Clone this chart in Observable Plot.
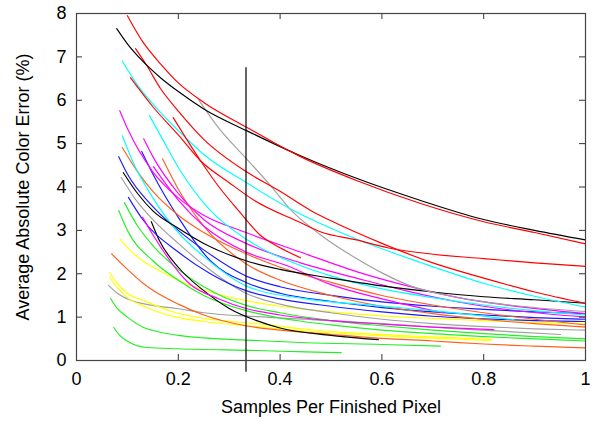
<!DOCTYPE html>
<html>
<head>
<meta charset="utf-8">
<script src="https://cdn.jsdelivr.net/npm/d3@7"></script>
<script src="https://cdn.jsdelivr.net/npm/@observablehq/plot@0.6"></script>
<style>
  html, body { margin: 0; padding: 0; background: #fff; }
  #chart { width: 595px; height: 421px; }
</style>
</head>
<body>
<div id="chart"></div>
<script>
// ---- tick labels ----
const xTicks = [0, 0.2, 0.4, 0.6, 0.8, 1];
const yTicks = [0, 1, 2, 3, 4, 5, 6, 7, 8];

// ---- vertical marker ----
const markerX = [0.333];
const markerTop = 6.75;
const markerBottom = -0.27;

// ---- series values ([x, y] pairs) ----
const red1 = [[0.1,7.95],[0.13,7.35],[0.165,6.84],[0.2,6.4],[0.25,5.95],[0.334,5.38],[0.44,4.7],[0.55,4.15],[0.676,3.62],[0.8,3.2],[0.9,2.95],[1.0,2.69]];
const black1 = [[0.079,7.65],[0.1,7.3],[0.13,6.9],[0.165,6.52],[0.2,6.2],[0.25,5.8],[0.334,5.3],[0.44,4.72],[0.55,4.2],[0.676,3.69],[0.8,3.25],[0.9,3.0],[1.0,2.78]];
const red2 = [[0.116,7.19],[0.138,6.8],[0.165,6.27],[0.2,5.75],[0.25,5.1],[0.334,4.35],[0.4,3.9],[0.46,3.46],[0.5,3.22],[0.6,2.7],[0.7,2.25],[0.8,1.9],[0.9,1.58],[1.0,1.32]];
const red3 = [[0.106,6.52],[0.15,5.85],[0.2,5.2],[0.244,4.6],[0.3,4.1],[0.348,3.7],[0.44,3.18],[0.479,2.97],[0.55,2.78],[0.611,2.6],[0.7,2.45],[0.8,2.35],[0.9,2.25],[1.0,2.17]];
const red4 = [[0.19,5.6],[0.244,4.6],[0.28,4.0],[0.318,3.46],[0.36,2.9],[0.4,2.6],[0.44,2.37]];
const cyan1 = [[0.09,6.9],[0.12,6.35],[0.165,5.72],[0.214,5.14],[0.25,4.75],[0.334,4.1],[0.426,3.46],[0.479,3.16],[0.55,2.8],[0.676,2.26],[0.8,1.78],[0.9,1.48],[1.0,1.23]];
const gray1 = [[0.24,6.01],[0.28,5.35],[0.334,4.65],[0.38,4.05],[0.422,3.46],[0.479,2.9],[0.55,2.35],[0.6,2.02],[0.656,1.72],[0.75,1.45],[0.85,1.28],[1.0,1.13]];
const cyan2 = [[0.143,5.65],[0.165,5.19],[0.2,4.45],[0.263,3.46],[0.333,2.8],[0.44,2.19],[0.5,1.95],[0.6,1.65],[0.7,1.45],[0.8,1.28],[0.9,1.15],[1.0,1.05]];
const cyan3 = [[0.09,5.18],[0.11,4.6],[0.15,3.75],[0.2,2.95],[0.25,2.4],[0.333,1.72],[0.45,1.42],[0.585,1.27],[0.7,1.15],[0.86,0.94]];
const magenta1 = [[0.085,5.76],[0.102,5.3],[0.15,4.35],[0.2,3.75],[0.25,3.35],[0.333,2.95],[0.44,2.5],[0.55,2.05],[0.65,1.72],[0.75,1.45],[0.85,1.27],[1.0,1.08]];
const magenta2 = [[0.132,5.11],[0.15,4.7],[0.2,3.85],[0.25,3.25],[0.333,2.7],[0.44,2.25],[0.55,1.9],[0.65,1.6],[0.75,1.35],[0.85,1.17],[1.0,1.0]];
const magenta3 = [[0.151,4.47],[0.2,3.7],[0.25,3.1],[0.333,2.5],[0.41,2.2],[0.5,1.75],[0.6,1.42],[0.72,1.1]];
const magenta4 = [[0.13,3.3],[0.15,2.9],[0.222,1.77],[0.28,1.42],[0.333,1.2],[0.4,1.05],[0.5,0.92],[0.6,0.84],[0.7,0.77],[0.82,0.71]];
const orange1 = [[0.09,4.91],[0.12,4.35],[0.15,3.9],[0.2,3.35],[0.25,2.95],[0.333,2.46],[0.4,2.15],[0.5,1.8],[0.6,1.5],[0.7,1.28],[0.8,1.1],[0.9,0.95],[1.0,0.82]];
const orange2 = [[0.169,4.65],[0.2,3.95],[0.25,3.1],[0.333,2.23],[0.4,1.85],[0.5,1.5],[0.6,1.25],[0.7,1.08],[0.8,0.95],[0.9,0.85],[1.0,0.77]];
const orange3 = [[0.069,2.46],[0.1,2.1],[0.132,1.77],[0.15,1.62],[0.2,1.3],[0.25,1.05],[0.333,0.8],[0.4,0.7],[0.5,0.6],[0.6,0.51],[0.7,0.45],[0.8,0.38],[0.9,0.33],[1.0,0.29]];
const blue1 = [[0.083,4.7],[0.1,4.3],[0.15,3.55],[0.2,3.0],[0.25,2.55],[0.333,1.95],[0.4,1.7],[0.5,1.5],[0.6,1.35],[0.7,1.25],[0.8,1.18],[0.9,1.12],[1.0,1.08]];
const blue2 = [[0.128,4.82],[0.15,4.3],[0.2,3.3],[0.263,2.3],[0.333,1.8],[0.4,1.55],[0.5,1.36],[0.6,1.22],[0.7,1.12],[0.8,1.05],[0.9,0.99],[1.0,0.95]];
const blue3 = [[0.102,3.76],[0.13,3.25],[0.2,2.5],[0.263,2.0],[0.333,1.61],[0.4,1.42],[0.5,1.25],[0.6,1.12],[0.7,1.02],[0.8,0.96],[0.9,0.92],[1.0,0.9]];
const black2 = [[0.092,4.33],[0.12,3.85],[0.15,3.45],[0.2,3.05],[0.25,2.7],[0.333,2.3],[0.4,2.1],[0.5,1.9],[0.6,1.72],[0.7,1.58],[0.8,1.47],[0.9,1.4],[1.0,1.32]];
const gray2 = [[0.088,4.22],[0.12,3.65],[0.15,3.25],[0.2,2.7],[0.25,2.2],[0.333,1.55],[0.4,1.3],[0.5,1.1],[0.6,0.95],[0.7,0.85],[0.8,0.78],[0.9,0.73],[1.0,0.7]];
const black3 = [[0.147,3.2],[0.163,2.76],[0.2,2.15],[0.25,1.61],[0.3,1.2],[0.354,0.92],[0.4,0.75],[0.5,0.58],[0.593,0.48]];
const green1 = [[0.094,3.64],[0.12,3.1],[0.15,2.65],[0.2,2.1],[0.25,1.7],[0.333,1.27],[0.4,1.1],[0.5,0.92],[0.6,0.8],[0.7,0.7],[0.8,0.62],[0.9,0.55],[1.0,0.5]];
const green2 = [[0.083,3.46],[0.1,3.0],[0.15,2.3],[0.2,1.85],[0.25,1.5],[0.333,1.15],[0.4,0.98],[0.5,0.82],[0.6,0.7],[0.7,0.62],[0.8,0.55],[0.9,0.5],[1.0,0.45]];
const yellow1 = [[0.086,2.79],[0.1,2.6],[0.13,2.3],[0.163,2.07],[0.2,1.85],[0.25,1.62],[0.333,1.38],[0.4,1.25],[0.5,1.12],[0.6,1.03],[0.7,0.97],[0.8,0.92],[0.9,0.88],[1.0,0.85]];
const yellow2 = [[0.065,2.03],[0.08,1.78],[0.1,1.55],[0.132,1.38],[0.196,1.1],[0.25,0.97],[0.354,0.85],[0.45,0.72],[0.55,0.63],[0.65,0.57],[0.75,0.52],[0.817,0.48]];
const yellow3 = [[0.065,1.92],[0.08,1.68],[0.1,1.45],[0.132,1.25],[0.196,1.0],[0.25,0.9],[0.354,0.78],[0.45,0.68],[0.55,0.6],[0.65,0.54],[0.75,0.49],[0.813,0.46]];
const gray3 = [[0.063,1.73],[0.08,1.55],[0.1,1.42],[0.15,1.27],[0.196,1.2],[0.25,1.1],[0.354,1.01],[0.45,0.95],[0.6,0.85],[0.75,0.73],[0.951,0.6]];
const green3 = [[0.067,1.43],[0.08,1.2],[0.1,1.0],[0.132,0.76],[0.15,0.69],[0.2,0.58],[0.25,0.52],[0.354,0.46],[0.45,0.41],[0.6,0.37],[0.715,0.33]];
const green4 = [[0.073,0.76],[0.085,0.58],[0.098,0.46],[0.137,0.3],[0.2,0.27],[0.354,0.23],[0.45,0.2],[0.52,0.18]];

// ---- series list with styles ----
const RED = "#ff0000", BLACK = "#000000", CYAN = "#00ffff", GRAY = "#a0a0a0",
      MAGENTA = "#ff00ff", ORANGE = "#ff6020", BLUE = "#1a1aff", GREEN = "#22f022", YELLOW = "#ffff00";
const series = [
  [green4, GREEN], [green3, GREEN], [gray3, GRAY], [yellow3, YELLOW], [yellow2, YELLOW],
  [orange3, ORANGE], [yellow1, YELLOW], [green2, GREEN], [green1, GREEN], [black3, BLACK],
  [gray2, GRAY], [blue3, BLUE], [blue2, BLUE], [blue1, BLUE], [magenta4, MAGENTA],
  [orange2, ORANGE], [orange1, ORANGE], [magenta3, MAGENTA], [magenta2, MAGENTA], [magenta1, MAGENTA],
  [cyan3, CYAN], [cyan2, CYAN], [black2, BLACK], [gray1, GRAY], [cyan1, CYAN],
  [red4, RED], [red3, RED], [red2, RED], [black1, BLACK], [red1, RED]
];

const W = 595, H = 421, mL = 76, mR = 10, mT = 13, mB = 61;
const plotW = W - mL - mR, plotH = H - mT - mB, tickPx = 6;
const fmt = d => d === 0 ? "0" : d === 1 ? "1" : String(d);

const chart = Plot.plot({
  width: W, height: H,
  marginLeft: mL, marginRight: mR, marginTop: mT, marginBottom: mB,
  style: { fontFamily: "'Liberation Sans', Arial, sans-serif", fontSize: "18px", color: "#000", background: "#fff" },
  x: { domain: [0, 1] },
  y: { domain: [0, 8] },
  marks: [
    ...series.map(([pts, color]) => Plot.line(pts, {
      x: d => d[0], y: d => d[1], stroke: color, strokeWidth: 1.15, curve: "monotone-x"
    })),
    Plot.ruleX(markerX, { y1: markerBottom, y2: markerTop, stroke: "#000", strokeWidth: 1.2 }),
    // inward ticks on all four sides
    Plot.tickX(xTicks, { x: d => d, insetTop: plotH - tickPx, stroke: "#333" }),
    Plot.tickX(xTicks, { x: d => d, insetBottom: plotH - tickPx, stroke: "#333" }),
    Plot.tickY(yTicks, { y: d => d, insetRight: plotW - tickPx, stroke: "#333" }),
    Plot.tickY(yTicks, { y: d => d, insetLeft: plotW - tickPx, stroke: "#333" }),
    Plot.frame({ stroke: "#444", strokeWidth: 1.2 }),
    Plot.axisX(xTicks, { tickSize: 0, tickPadding: 12, tickFormat: fmt, fontSize: 18,
      label: "Samples Per Finished Pixel", labelAnchor: "center", labelArrow: "none", labelOffset: 52 }),
    Plot.axisY(yTicks, { tickSize: 0, tickPadding: 10, tickFormat: fmt, fontSize: 18,
      label: "Average Absolute Color Error (%)", labelAnchor: "center", labelArrow: "none", labelOffset: 60 })
  ]
});
document.getElementById("chart").appendChild(chart);
</script>
</body>
</html>
